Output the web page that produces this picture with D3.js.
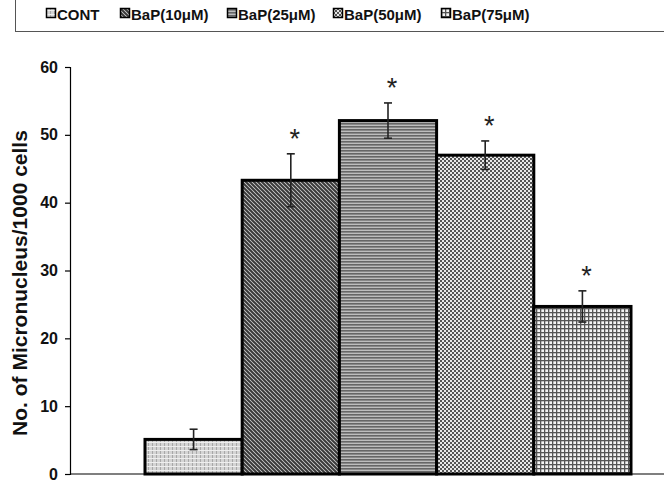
<!DOCTYPE html>
<html><head><meta charset="utf-8">
<script src="https://cdn.jsdelivr.net/npm/d3@7"></script>
<style>body{margin:0;background:#fff}svg{display:block}text{font-family:Arial,"Liberation Sans",sans-serif;font-weight:bold}</style>
</head><body><div id="c"></div>
<script>
const categories = ["CONT","BaP(10μM)","BaP(25μM)","BaP(50μM)","BaP(75μM)"];
const values = [5.1, 43.3, 52.1, 47.0, 24.7];
const errors = [1.5, 3.9, 2.6, 2.1, 2.3];
const significant = [false, true, true, true, true];
const yTicks = [0,10,20,30,40,50,60];
const patternIds = ["pCont","pDiag","pHoriz","pCheck","pGrid"];

const W=664,H=485;
const svg=d3.select("#c").append("svg").attr("width",W).attr("height",H);
const defs=svg.append("defs");
// patterns
let p=defs.append("pattern").attr("id","pCont").attr("width",4).attr("height",4).attr("patternUnits","userSpaceOnUse");
p.append("rect").attr("width",4).attr("height",4).attr("fill","#d4d4d4");
p.append("rect").attr("x",0).attr("y",0).attr("width",1).attr("height",4).attr("fill","#a8a8a8");
p.append("rect").attr("x",0).attr("y",2).attr("width",4).attr("height",1).attr("fill","#eeeeee");
p=defs.append("pattern").attr("id","pDiag").attr("width",4).attr("height",4).attr("patternUnits","userSpaceOnUse");
p.append("rect").attr("width",4).attr("height",4).attr("fill","#d8d8d8");
p.append("path").attr("d","M0,0L4,4M-1,3L1,5M3,-1L5,1").attr("stroke","#3a3a3a").attr("stroke-width",2);
p=defs.append("pattern").attr("id","pHoriz").attr("width",4).attr("height",3).attr("patternUnits","userSpaceOnUse");
p.append("rect").attr("width",4).attr("height",3).attr("fill","#bdbdbd");
p.append("rect").attr("y",0).attr("width",4).attr("height",1.6).attr("fill","#666");
p=defs.append("pattern").attr("id","pCheck").attr("width",4).attr("height",4).attr("patternUnits","userSpaceOnUse");
p.append("rect").attr("width",4).attr("height",4).attr("fill","#e8e8e8");
p.append("rect").attr("x",0).attr("y",0).attr("width",2).attr("height",2).attr("fill","#555");
p.append("rect").attr("x",2).attr("y",2).attr("width",2).attr("height",2).attr("fill","#555");
p=defs.append("pattern").attr("id","pGrid").attr("width",4).attr("height",4).attr("patternUnits","userSpaceOnUse");
p.append("rect").attr("width",4).attr("height",4).attr("fill","#f4f4f4");
p.append("rect").attr("x",0).attr("width",1.3).attr("height",4).attr("fill","#555");
p.append("rect").attr("y",0).attr("width",4).attr("height",1.3).attr("fill","#555");

const x0=70;
const y=d3.scaleLinear().domain([0,60]).range([474,67]);
const x=d3.scaleBand().domain(categories).range([145,631]).padding(0);

// legend frame
svg.append("line").attr("x1",15.5).attr("x2",15.5).attr("y1",0).attr("y2",31).attr("stroke","#555").attr("stroke-width",1);
svg.append("line").attr("x1",15).attr("x2",W).attr("y1",31.5).attr("y2",31.5).attr("stroke","#555").attr("stroke-width",1);
const legX=[46,120,227,333,441];
categories.forEach((c,i)=>{
  const g=svg.append("g").attr("transform",`translate(${legX[i]},0)`);
  g.append("rect").attr("x",0.5).attr("y",8.5).attr("width",9).attr("height",9).attr("fill",`url(#${patternIds[i]})`).attr("stroke","#000").attr("stroke-width",1.5);
  g.append("text").attr("x",11).attr("y",19.5).attr("font-size",15).attr("fill","#111").text(c);
});

// y axis
const ax=svg.append("g").attr("transform",`translate(${x0},0)`)
  .call(d3.axisLeft(y).tickValues(yTicks).tickSize(5).tickPadding(7).tickFormat(d3.format("d")));
ax.select(".domain").attr("stroke","#000").attr("stroke-width",1.2);
ax.selectAll(".tick line").attr("stroke","#000").attr("stroke-width",1.2);
ax.selectAll(".tick text").attr("font-size",16).attr("fill","#111").style("font-family","Arial,'Liberation Sans',sans-serif").style("font-weight","bold");

// x axis line
svg.append("line").attr("x1",x0).attr("x2",W).attr("y1",y(0)).attr("y2",y(0)).attr("stroke","#000").attr("stroke-width",1.2);

// bars
svg.selectAll("rect.bar").data(categories).enter().append("rect").attr("class","bar")
  .attr("x",d=>x(d)).attr("width",x.bandwidth())
  .attr("y",(d,i)=>y(values[i])).attr("height",(d,i)=>y(0)-y(values[i]))
  .attr("fill",(d,i)=>`url(#${patternIds[i]})`).attr("stroke","#000").attr("stroke-width",3);

// error bars
categories.forEach((c,i)=>{
  const cx=x(c)+x.bandwidth()/2;
  const t=y(values[i]+errors[i]), b=y(values[i]-errors[i]);
  const g=svg.append("g").attr("stroke","#222").attr("stroke-width",1.6);
  g.append("line").attr("x1",cx).attr("x2",cx).attr("y1",t).attr("y2",b);
  g.append("line").attr("x1",cx-4).attr("x2",cx+4).attr("y1",t).attr("y2",t);
  g.append("line").attr("x1",cx-4).attr("x2",cx+4).attr("y1",b).attr("y2",b);
  if(significant[i]){
    svg.append("text").attr("x",cx+4).attr("y",t-6).attr("text-anchor","middle")
      .attr("font-size",27).style("font-weight","normal").attr("fill","#222").text("*");
  }
});

// y label
svg.append("text").attr("transform","translate(27,283) rotate(-90)").attr("text-anchor","middle")
  .attr("font-size",21).attr("fill","#111").text("No. of Micronucleus/1000 cells");
</script></body></html>
